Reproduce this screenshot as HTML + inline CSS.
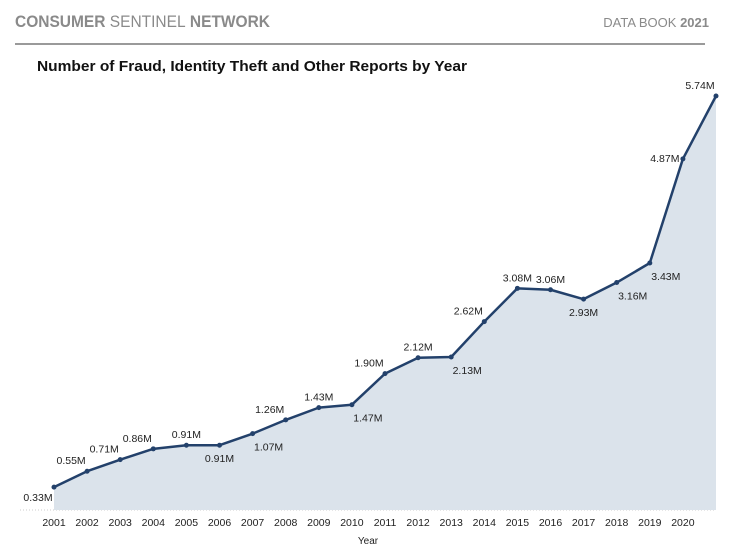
<!DOCTYPE html>
<html><head><meta charset="utf-8"><style>
body{margin:0;background:#fff;width:739px;height:549px;overflow:hidden;font-family:"Liberation Sans",sans-serif}
</style></head><body>
<svg width="739" height="549">
<text x="15" y="27" font-size="17" font-weight="bold" fill="#8a8a8a" textLength="255" lengthAdjust="spacingAndGlyphs">CONSUMER <tspan font-weight="normal">SENTINEL</tspan> NETWORK</text>
<text x="709" y="27" font-size="13" fill="#8a8a8a" text-anchor="end">DATA BOOK <tspan font-weight="bold">2021</tspan></text>
<line x1="15" y1="44" x2="705" y2="44" stroke="#9a9a9a" stroke-width="2"/>
<text x="37" y="71" font-size="15" font-weight="bold" fill="#111" textLength="430" lengthAdjust="spacingAndGlyphs">Number of Fraud, Identity Theft and Other Reports by Year</text>
<line x1="20" y1="510" x2="716" y2="510" stroke="#ccc" stroke-dasharray="1,2"/>
<g id="plot"></g>
<text x="368" y="544" font-size="10" fill="#222" text-anchor="middle">Year</text>
</svg>
<script>
const years=[2001,2002,2003,2004,2005,2006,2007,2008,2009,2010,2011,2012,2013,2014,2015,2016,2017,2018,2019,2020,2021];
const values=[0.33,0.55,0.71,0.86,0.91,0.91,1.07,1.26,1.43,1.47,1.90,2.12,2.13,2.62,3.08,3.06,2.93,3.16,3.43,4.87,5.74];
const placement=['bl','al','al','al','a','b','br','al','a','br','al','a','br','al','a','a','b','br','br','l','al'];
const tickYears=[2001,2002,2003,2004,2005,2006,2007,2008,2009,2010,2011,2012,2013,2014,2015,2016,2017,2018,2019,2020];
const NS='http://www.w3.org/2000/svg';
const x=y=>54+(y-2001)*33.1;
const yv=v=>511-v*72.3;
const g=document.getElementById('plot');
function mk(t,a){const e=document.createElementNS(NS,t);for(const k in a)e.setAttribute(k,a[k]);g.appendChild(e);return e;}
let d='M'+x(years[0])+',510';years.forEach((yr,i)=>d+=' L'+x(yr)+','+yv(values[i]));d+=' L'+x(years[years.length-1])+',510 Z';
const area=mk('path',{d:d,fill:'#dbe3eb'});


const line=mk('polyline',{points:years.map((yr,i)=>x(yr)+','+yv(values[i])).join(' '),fill:'none',stroke:'#23416b','stroke-width':2.5,'stroke-linejoin':'round'});


const off={a:[0,-10],al:[-16,-10],b:[0,14],bl:[-16,11],br:[16,14],l:[-18,0]};
years.forEach((yr,i)=>{
 const px=x(yr),py=yv(values[i]);
 const c=mk('circle',{cx:px,cy:py,r:2.5,fill:'#23416b'});
 
 
 const o=off[placement[i]];
 const t=mk('text',{x:px+o[0],y:py+o[1]+3,'font-size':10.5,fill:'#222','text-anchor':'middle'});
 t.textContent=values[i].toFixed(2)+'M';
 
 
});
tickYears.forEach(yr=>{
 const t=mk('text',{x:x(yr),y:526,'font-size':10.5,fill:'#222','text-anchor':'middle'});
 t.textContent=yr;
 
 
});
</script>
</body></html>
